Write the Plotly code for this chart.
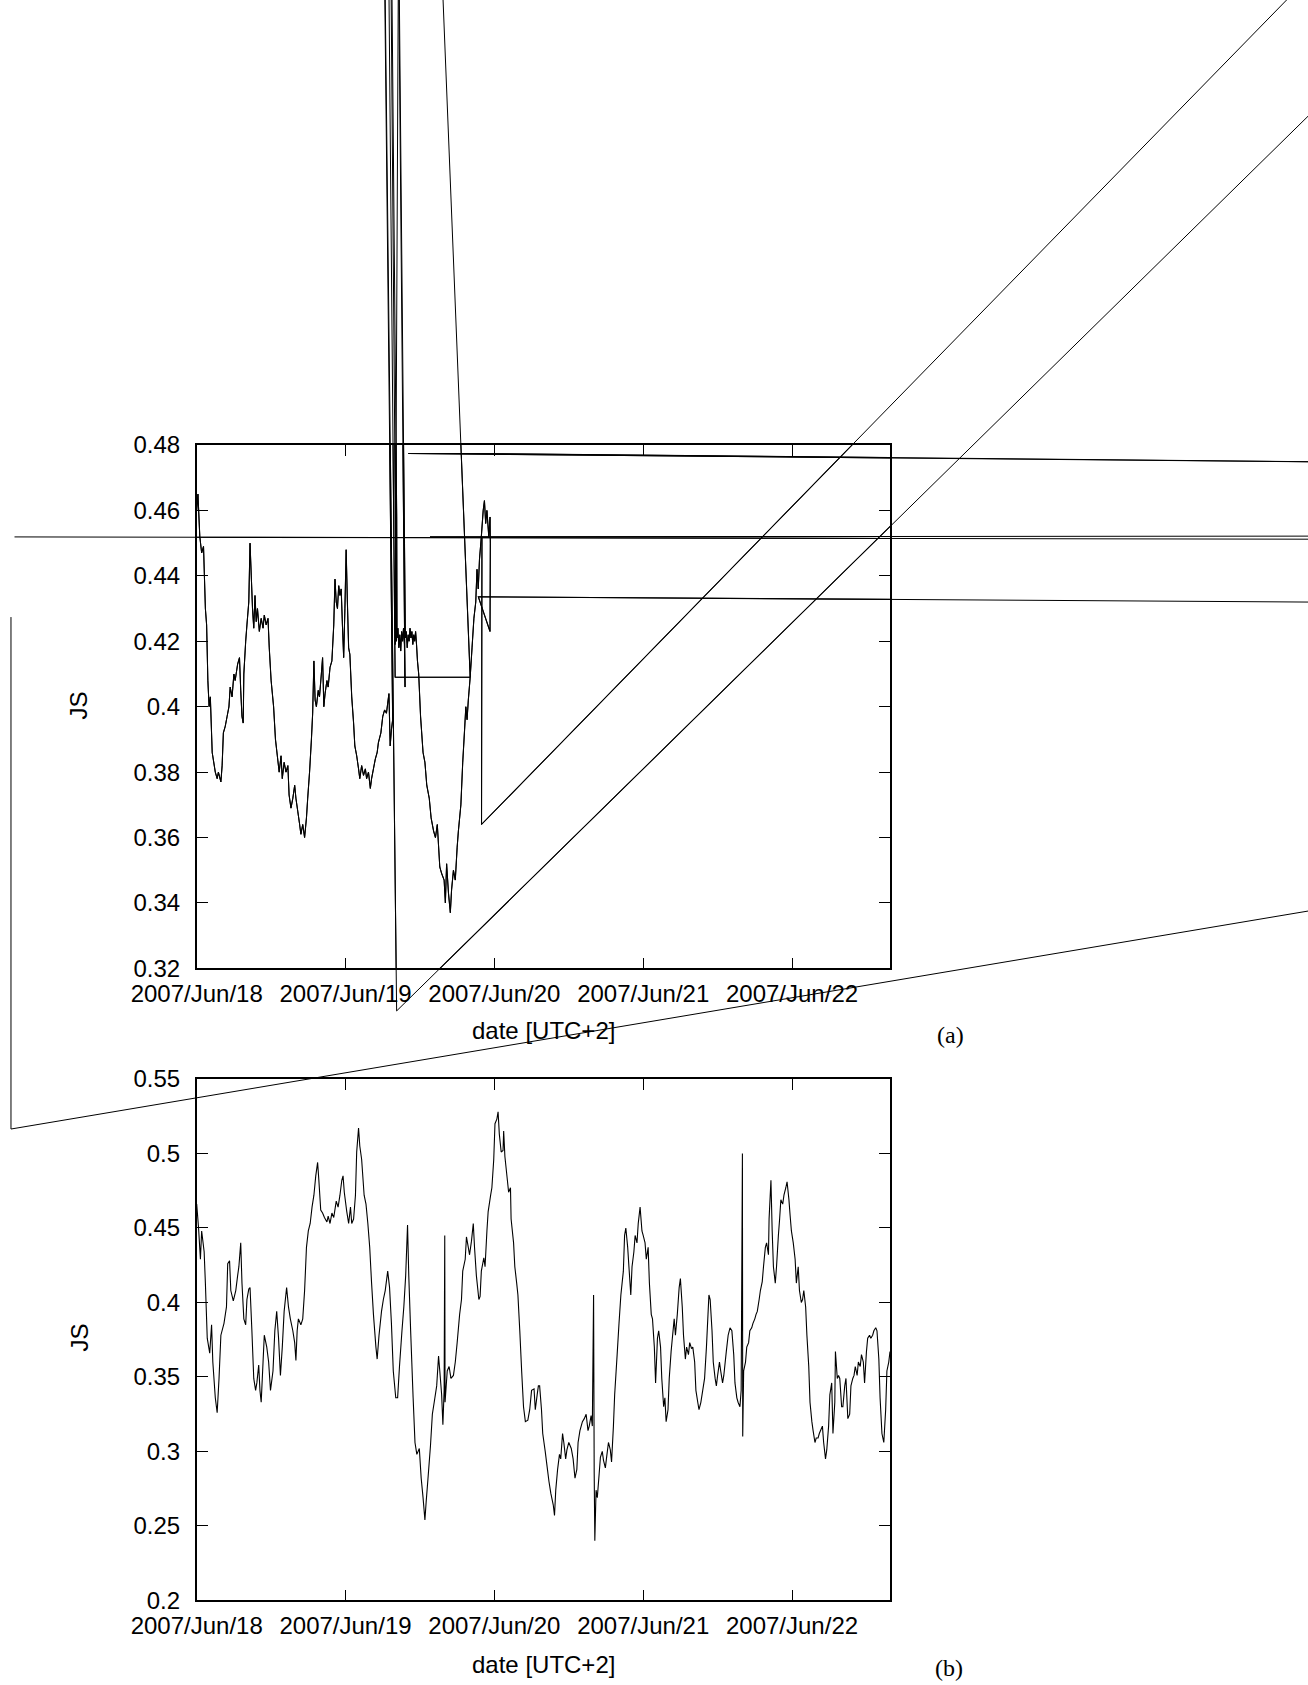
import datetime as dt
import plotly.graph_objects as go

# ---------------- data ----------------
START = dt.datetime(2007, 6, 18)
X_SPAN_HOURS = 111.8
DAY_TICKS = [dt.datetime(2007, 6, d) for d in range(18, 23)]
DAY_LABELS = ["2007/Jun/18", "2007/Jun/19", "2007/Jun/20", "2007/Jun/21", "2007/Jun/22"]

A_YTICKS = [0.32, 0.34, 0.36, 0.38, 0.40, 0.42, 0.44, 0.46, 0.48]
A_YLABELS = ["0.32", "0.34", "0.36", "0.38", "0.4", "0.42", "0.44", "0.46", "0.48"]
B_YTICKS = [0.2, 0.25, 0.3, 0.35, 0.4, 0.45, 0.5, 0.55]
B_YLABELS = ["0.2", "0.25", "0.3", "0.35", "0.4", "0.45", "0.5", "0.55"]

# panel (a): hours since 2007/Jun/18 00:00 and JS value; the series contains
# corrupted records (far-away points) that produce the long stray lines.
A1_H = [0.0, 0.2, 0.5, 0.8, 1.1, 1.4, 1.6, 1.8, 2.0, 2.2,
        2.5, 3.0, 3.3, 3.5, 3.9, 4.1, 4.3, 4.6, 4.9, 5.2,
        5.4, 5.7, 6.0, 6.2, 6.6, 6.9, 7.1, 7.3, 7.5, 7.6,
        7.9, 8.1, 8.4, 8.6, 8.8, 9.0, 9.2, 9.4, 9.6, 9.8,
        10.1, 10.4, 10.7, 10.9, 11.2, 11.5, 11.7, 12.0, 12.4, 12.7,
        13.0, 13.3, 13.6, 13.8, 14.1, 14.4, 14.7, 14.9, 15.2, 15.5,
        15.8, 16.0, 16.3, 16.6, 16.8, 17.1, 17.4, 17.7, 17.9, 18.2,
        18.5, 18.7, 18.9, 19.1, 19.3, 19.6, 19.8, 20.1, 20.3, 20.5,
        20.7, 21.0, 21.2, 21.5, 21.8, 22.1, 22.3, 22.5, 22.7, 22.9,
        23.1, 23.3, 23.5, 23.7, 23.9, 24.1, 24.3, 24.5, 24.7, 25.0,
        25.3, 25.5, 25.8, 26.1, 26.3, 26.6, 26.9, 27.2, 27.4, 27.7,
        28.0, 28.2, 28.5, 28.8, 29.1, 29.3, 29.7, 30.0, 30.3, 30.6,
        30.8, 31.0, 31.2, 31.4, 31.6,
        28.59, 32.24, 211.45]
A1_V = [0.460, 0.465, 0.452, 0.447, 0.449, 0.430, 0.425, 0.408, 0.400, 0.403,
        0.386, 0.380, 0.378, 0.380, 0.377, 0.382, 0.392, 0.394, 0.397, 0.400,
        0.406, 0.403, 0.410, 0.408, 0.413, 0.415, 0.405, 0.397, 0.395, 0.410,
        0.420, 0.425, 0.432, 0.450, 0.440, 0.430, 0.424, 0.434, 0.426, 0.430,
        0.423, 0.427, 0.424, 0.428, 0.425, 0.427, 0.418, 0.408, 0.400, 0.390,
        0.385, 0.380, 0.385, 0.378, 0.383, 0.380, 0.382, 0.373, 0.369, 0.372,
        0.376, 0.372, 0.368, 0.364, 0.361, 0.364, 0.360, 0.366, 0.372, 0.380,
        0.390, 0.398, 0.414, 0.402, 0.400, 0.405, 0.403, 0.410, 0.415, 0.400,
        0.404, 0.408, 0.406, 0.412, 0.414, 0.425, 0.439, 0.432, 0.430, 0.437,
        0.434, 0.436, 0.425, 0.415, 0.430, 0.448, 0.432, 0.418, 0.416, 0.403,
        0.395, 0.388, 0.385, 0.381, 0.378, 0.382, 0.379, 0.381, 0.378, 0.380,
        0.375, 0.378, 0.381, 0.384, 0.386, 0.389, 0.392, 0.397, 0.399, 0.398,
        0.401, 0.404, 0.388, 0.393, 0.396,
        0.9217, 0.3070, 0.6405]

A2_H = [29.56, 32.0, 44.1, 33.27,
        32.0, 32.1, 32.2, 30.05, 32.25, 32.3, 32.45, 32.6, 32.75, 32.9,
        33.05, 33.2, 33.35, 33.5, 33.6, 31.17, 33.65, 33.8, 33.95, 34.1,
        34.25, 34.4, 34.55, 34.7, 34.85, 35.0, 35.15, 35.3, 35.45, 35.6,
        35.8, 36.1, 36.5, 36.8, 37.1, 37.5, 37.8, 38.2, 38.5, 38.8,
        39.2, 39.5, 39.9, 40.1, 40.3, 40.6, 40.9, 41.1, 41.4, 41.7,
        42.0, 42.2, 42.6, 42.9, 43.2, 43.4, 43.6, 43.8, 44.1,
        44.4, 44.7, 45.0, 45.2, 45.4, 45.6, 45.9, 46.2, 46.4, 46.6,
        46.8, 47.1, 47.3, 47.35, 47.3, 45.41, 211.45]
A2_V = [0.9217, 0.409, 0.409, 0.9217,
        0.419, 0.423, 0.420, 0.9217, 0.458, 0.421, 0.424, 0.418, 0.422, 0.417,
        0.423, 0.420, 0.424, 0.419, 0.406, 0.9217, 0.421, 0.423, 0.418, 0.422,
        0.420, 0.424, 0.421, 0.423, 0.419, 0.422, 0.420, 0.423, 0.419, 0.414,
        0.410, 0.397, 0.386, 0.383, 0.376, 0.372, 0.366, 0.362, 0.360, 0.364,
        0.351, 0.349, 0.347, 0.340, 0.352, 0.343, 0.337, 0.344, 0.350, 0.347,
        0.357, 0.362, 0.370, 0.383, 0.393, 0.400, 0.396, 0.402, 0.409,
        0.418, 0.427, 0.432, 0.442, 0.436, 0.445, 0.452, 0.460, 0.463, 0.456,
        0.460, 0.452, 0.458, 0.450, 0.423, 0.4336, 0.4316]

A3_H = [46.0, 45.93, 207.26]
A3_V = [0.452, 0.364, 0.6772]
A4_H = [-29.38, 211.45]
A4_V = [0.4519, 0.4511]
A5_H = [37.62, 211.45]
A5_V = [0.4519, 0.4522]
A6_H = [211.45, 34.14, 44.07, 211.45]
A6_V = [0.4743, 0.4774, 0.4774, 0.4743]
A7_H = [211.45, -29.95, -29.95]
A7_V = [0.3478, 0.2709, 0.4274]

# panel (b)
B_H = [0.0, 0.3, 0.6, 0.8, 1.2, 1.4, 1.7, 2.1, 2.4, 2.6,
       3.0, 3.3, 3.6, 3.9, 4.4, 4.8, 5.0, 5.3, 5.5, 5.9,
       6.3, 6.6, 6.8, 7.1, 7.3, 7.6, 7.9, 8.1, 8.4, 8.6,
       8.9, 9.2, 9.5, 9.7, 10.0, 10.2, 10.4, 10.7, 10.9, 11.3,
       11.6, 11.9, 12.3, 12.6, 12.9, 13.2, 13.5, 13.8, 14.1, 14.5,
       14.8, 15.1, 15.5, 15.8, 16.0, 16.2, 16.4, 16.8, 17.1, 17.4,
       17.7, 18.0, 18.3, 18.6, 18.9, 19.2, 19.5, 19.7, 20.0, 20.3,
       20.6, 21.0, 21.2, 21.5, 21.8, 22.1, 22.5, 22.8, 23.1, 23.4,
       23.6, 23.8, 24.2, 24.5, 24.8, 25.0, 25.3, 25.6, 25.8, 26.1,
       26.3, 26.6, 27.0, 27.3, 27.6, 27.9, 28.2, 28.5, 28.9, 29.1,
       29.4, 29.8, 30.1, 30.4, 30.8, 31.1, 31.4, 31.7, 32.1, 32.4,
       32.7, 33.1, 33.4, 33.7, 34.0, 34.2, 34.5, 34.9, 35.2, 35.5,
       35.9, 36.2, 36.5, 36.8, 37.0, 37.3, 37.7, 38.0, 38.3, 38.7,
       39.0, 39.2, 39.5, 39.7, 39.9, 40.0, 40.05, 40.4, 40.7, 41.0,
       41.4, 41.7, 42.0, 42.4, 42.7, 42.9, 43.3, 43.5, 43.8, 44.0,
       44.3, 44.6, 44.8, 45.1, 45.5, 45.7, 45.9, 46.3, 46.5, 46.8,
       47.0, 47.4, 47.6, 47.9, 48.1, 48.4, 48.6, 48.8, 49.1, 49.4,
       49.5, 49.7, 50.1, 50.3, 50.6, 50.7, 51.1, 51.3, 51.6, 51.8,
       52.1, 52.4, 52.7, 53.0, 53.4, 53.7, 54.0, 54.4, 54.6, 54.9,
       55.1, 55.3, 55.6, 55.8, 56.2, 56.5, 56.8, 57.1, 57.5, 57.7,
       57.9, 58.2, 58.5, 58.7, 59.0, 59.2, 59.5, 59.7, 60.0, 60.4,
       60.7, 61.0, 61.3, 61.5, 61.8, 62.2, 62.5, 62.8, 63.1, 63.3,
       63.6, 63.8, 64.0, 64.1, 64.2, 64.4, 64.6, 64.9, 65.1, 65.4,
       65.6, 65.9, 66.1, 66.4, 66.7, 66.9, 67.2, 67.4, 67.8, 68.1,
       68.4, 68.8, 69.0, 69.2, 69.5, 69.7, 70.0, 70.2, 70.5, 70.7,
       71.0, 71.2, 71.5, 71.8, 72.0, 72.3, 72.5, 72.8, 73.0, 73.3,
       73.5, 73.8, 74.0, 74.3, 74.5, 74.8, 75.0, 75.3, 75.5, 75.7,
       76.0, 76.2, 76.5, 76.7, 77.0, 77.2, 77.5, 77.8, 78.0, 78.3,
       78.5, 78.8, 79.0, 79.3, 79.5, 79.8, 80.0, 80.3, 80.5, 80.8,
       81.0, 81.3, 81.6, 81.9, 82.2, 82.6, 82.8, 83.1, 83.3, 83.6,
       83.8, 84.0, 84.3, 84.5, 84.8, 85.0, 85.4, 85.7, 86.0, 86.3,
       86.6, 86.8, 87.1, 87.3, 87.6, 87.8, 88.0, 88.05, 88.2, 88.5,
       88.7, 89.0, 89.2, 89.5, 89.7, 90.0, 90.2, 90.4, 90.7, 90.9,
       91.2, 91.4, 91.7, 91.9, 92.2, 92.3, 92.6, 92.8, 93.0, 93.3,
       93.5, 93.8, 94.0, 94.2, 94.5, 94.7, 95.0, 95.2, 95.5, 95.7,
       95.9, 96.2, 96.5, 96.7, 97.0, 97.2, 97.5, 97.7, 97.9, 98.2,
       98.4, 98.7, 98.9, 99.2, 99.4, 99.7, 99.9, 100.2, 100.4, 100.6,
       100.9, 101.1, 101.4, 101.6, 101.9, 102.1, 102.4, 102.6, 102.9, 103.0,
       103.3, 103.5, 103.7, 104.0, 104.2, 104.5, 104.7, 105.0, 105.3, 105.5,
       105.8, 106.0, 106.2, 106.5, 106.7, 107.0, 107.2, 107.5, 107.7, 108.0,
       108.2, 108.5, 108.7, 109.0, 109.2, 109.5, 109.7, 110.0, 110.2, 110.5,
       110.8, 111.1, 111.3, 111.6, 111.8]
B_V = [.466, .450, .429, .448, .434, .413, .376, .366, .385, .360,
       .336, .326, .349, .378, .386, .397, .426, .428, .408, .401,
       .408, .418, .424, .440, .413, .389, .385, .402, .409, .410,
       .381, .349, .341, .346, .358, .341, .333, .360, .378, .370,
       .360, .341, .354, .381, .394, .376, .351, .370, .394, .410,
       .397, .389, .381, .373, .361, .381, .389, .385, .389, .408,
       .437, .448, .453, .464, .472, .485, .494, .482, .462, .460,
       .457, .454, .458, .453, .460, .457, .468, .464, .472, .482,
       .485, .474, .461, .453, .464, .453, .456, .472, .501, .517,
       .505, .496, .472, .466, .453, .437, .413, .392, .370, .362,
       .378, .394, .402, .408, .421, .410, .386, .354, .336, .336,
       .357, .381, .397, .418, .452, .418, .381, .336, .306, .298,
       .302, .282, .269, .254, .266, .282, .304, .325, .333, .344,
       .364, .354, .338, .318, .341, .445, .333, .354, .357, .349,
       .351, .360, .373, .392, .402, .421, .429, .444, .437, .432,
       .441, .453, .437, .418, .402, .404, .421, .430, .424, .448,
       .461, .472, .477, .496, .520, .523, .528, .513, .501, .502,
       .515, .498, .482, .474, .477, .456, .440, .424, .413, .405,
       .381, .354, .330, .320, .321, .328, .341, .342, .328, .338,
       .344, .344, .328, .312, .300, .290, .280, .272, .264, .257,
       .274, .288, .298, .295, .312, .306, .295, .301, .306, .302,
       .295, .282, .288, .306, .314, .320, .322, .325, .314, .317,
       .324, .317, .405, .285, .240, .274, .269, .285, .296, .300,
       .294, .289, .296, .306, .301, .293, .317, .338, .365, .386,
       .405, .421, .445, .450, .437, .424, .405, .424, .434, .445,
       .440, .453, .464, .448, .445, .440, .429, .437, .413, .392,
       .389, .370, .346, .376, .381, .370, .349, .330, .336, .320,
       .328, .349, .367, .376, .389, .378, .392, .410, .416, .397,
       .378, .362, .370, .365, .373, .369, .370, .360, .341, .333,
       .328, .333, .341, .349, .370, .405, .402, .381, .360, .349,
       .344, .351, .360, .354, .346, .351, .367, .378, .383, .381,
       .365, .346, .336, .333, .330, .341, .500, .310, .354, .360,
       .370, .373, .381, .383, .386, .389, .392, .394, .402, .408,
       .414, .424, .437, .440, .432, .456, .482, .448, .424, .413,
       .424, .445, .456, .469, .466, .472, .477, .481, .469, .458,
       .448, .440, .429, .413, .424, .408, .400, .402, .408, .397,
       .378, .357, .333, .320, .314, .306, .309, .309, .312, .314,
       .317, .306, .295, .301, .317, .338, .346, .312, .333, .367,
       .349, .351, .349, .330, .330, .344, .349, .322, .325, .344,
       .349, .351, .357, .351, .360, .357, .365, .360, .346, .367,
       .376, .378, .376, .378, .381, .383, .381, .362, .336, .312,
       .306, .328, .354, .360, .367]

# ---------------- helpers ----------------
for h, v in [(A1_H, A1_V), (A2_H, A2_V), (A3_H, A3_V), (A4_H, A4_V),
             (A5_H, A5_V), (A6_H, A6_V), (A7_H, A7_V), (B_H, B_V)]:
    assert len(h) == len(v), (len(h), len(v))


def to_time(hours):
    return [None if h is None else START + dt.timedelta(hours=h) for h in hours]


a_hours, a_js = [], []
for h, v in [(A1_H, A1_V), (A2_H, A2_V), (A3_H, A3_V), (A4_H, A4_V),
             (A5_H, A5_V), (A6_H, A6_V), (A7_H, A7_V)]:
    a_hours += list(h) + [None]
    a_js += list(v) + [None]

W, H = 1308, 1685
# panel geometry (pixels)
XL, XR = 196.7, 890.0
A_TOP, A_BOT = 445.0, 968.4
B_TOP, B_BOT = 1079.0, 1600.4

xd = [XL / W, XR / W]
yd_a = [1 - A_BOT / H, 1 - A_TOP / H]
yd_b = [1 - B_BOT / H, 1 - B_TOP / H]

x_end = START + dt.timedelta(hours=X_SPAN_HOURS)
A_YR = [0.32, 0.48]
B_YR = [0.2, 0.55]

# full-page overlay axes sharing panel (a)'s scales (so out-of-frame records are visible)
hrs_per_paper = X_SPAN_HOURS / (xd[1] - xd[0])
ov_x0 = START - dt.timedelta(hours=xd[0] * hrs_per_paper)
ov_x1 = x_end + dt.timedelta(hours=(1 - xd[1]) * hrs_per_paper)
val_per_paper = (A_YR[1] - A_YR[0]) / (yd_a[1] - yd_a[0])
ov_y0 = A_YR[0] - yd_a[0] * val_per_paper
ov_y1 = A_YR[1] + (1 - yd_a[1]) * val_per_paper

FONT = "Liberation Sans, Arial, Helvetica, sans-serif"
SERIF = "Liberation Serif, DejaVu Serif, serif"
FS = 24

fig = go.Figure()
# in-frame part of panel (a) on its own axes (creates the framed subplot)
fig.add_trace(go.Scatter(x=to_time(a_hours), y=a_js, mode="lines",
                         line=dict(color="black", width=1.1, simplify=False),
                         connectgaps=False, xaxis="x", yaxis="y",
                         showlegend=False, hoverinfo="skip"))
# the same records on page-wide axes with identical scales: out-of-frame strokes
fig.add_trace(go.Scatter(x=to_time(a_hours), y=a_js, mode="lines",
                         line=dict(color="black", width=1.0, simplify=False),
                         connectgaps=False, xaxis="x3", yaxis="y3",
                         showlegend=False, hoverinfo="skip"))
fig.add_trace(go.Scatter(x=to_time(B_H), y=B_V, mode="lines",
                         line=dict(color="black", width=1.1, simplify=False),
                         xaxis="x2", yaxis="y2", showlegend=False))

axis_common = dict(showline=True, linecolor="black", linewidth=1.6, mirror="ticks",
                   ticks="inside", ticklen=11, tickwidth=1.4, tickcolor="black",
                   showgrid=False, zeroline=False, automargin=False,
                   tickfont=dict(family=FONT, size=FS, color="black"))

fig.update_layout(
    width=W, height=H,
    margin=dict(l=0, r=0, t=0, b=0),
    paper_bgcolor="white", plot_bgcolor="rgba(0,0,0,0)",
    showlegend=False,
    xaxis=dict(domain=xd, anchor="y", type="date", range=[START, x_end],
               tickvals=DAY_TICKS, ticktext=DAY_LABELS, ticklabelstandoff=3,
               **axis_common),
    yaxis=dict(domain=yd_a, anchor="x", range=A_YR, tickvals=A_YTICKS,
               ticktext=A_YLABELS, ticklabelstandoff=10, **axis_common),
    xaxis2=dict(domain=xd, anchor="y2", type="date", range=[START, x_end],
                tickvals=DAY_TICKS, ticktext=DAY_LABELS, ticklabelstandoff=3,
                **axis_common),
    yaxis2=dict(domain=yd_b, anchor="x2", range=B_YR, tickvals=B_YTICKS,
                ticktext=B_YLABELS, ticklabelstandoff=10, **axis_common),
    xaxis3=dict(domain=[0, 1], anchor="y3", type="date", range=[ov_x0, ov_x1],
                visible=False, showgrid=False, zeroline=False, automargin=False),
    yaxis3=dict(domain=[0, 1], anchor="x3", range=[ov_y0, ov_y1],
                visible=False, showgrid=False, zeroline=False, automargin=False),
)

xc = (XL + XR) / 2 / W
ann = [
    dict(text="date [UTC+2]", x=xc, y=1 - 1030 / H, font=dict(family=FONT, size=FS)),
    dict(text="date [UTC+2]", x=xc, y=1 - 1664 / H, font=dict(family=FONT, size=FS)),
    dict(text="JS", x=78.5 / W, y=1 - 706 / H, textangle=-90, font=dict(family=FONT, size=FS)),
    dict(text="JS", x=78.5 / W, y=1 - 1338 / H, textangle=-90, font=dict(family=FONT, size=FS)),
    dict(text="(a)", x=950 / W, y=1 - 1035 / H, font=dict(family=SERIF, size=FS)),
    dict(text="(b)", x=949 / W, y=1 - 1668 / H, font=dict(family=SERIF, size=FS)),
]
for a in ann:
    a.update(xref="paper", yref="paper", showarrow=False, xanchor="center", yanchor="middle")
    a["font"]["color"] = "black"
fig.update_layout(annotations=ann)

fig.write_html("out.html", config={"displayModeBar": False},
               post_script="document.body.style.margin='0px';")
